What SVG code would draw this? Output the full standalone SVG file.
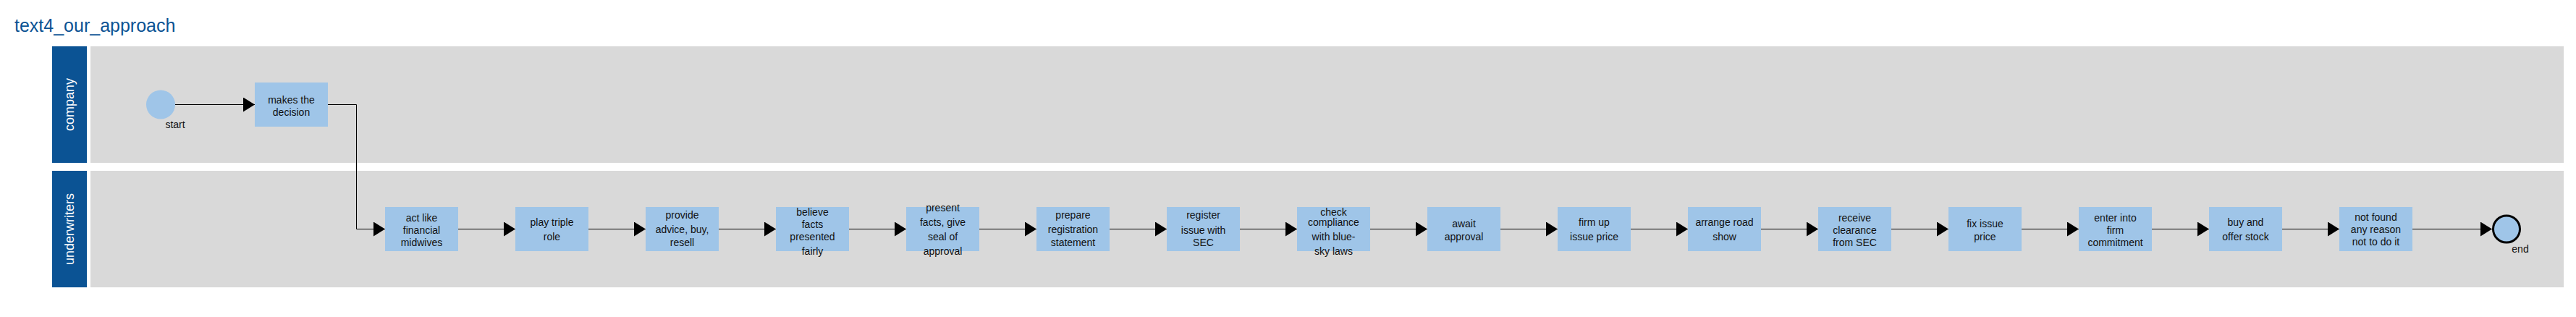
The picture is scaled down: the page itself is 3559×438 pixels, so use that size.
<svg xmlns="http://www.w3.org/2000/svg" width="3559" height="438" viewBox="0 0 3559 438">
<defs>
<style>
.lanehead{fill:#0b5394}
.lanebody{fill:#d9d9d9}
.lanelabel{font-family:"Liberation Sans",Arial,sans-serif;font-size:18px;fill:#ffffff;text-anchor:middle;dominant-baseline:central}
.box{fill:#9fc5e8}
.t{font-family:"Liberation Sans",Arial,sans-serif;font-size:14px;fill:#111111;text-anchor:middle}
.edge{fill:none;stroke:#000000;stroke-width:1;marker-end:url(#arrow)}
.title{font-family:"Liberation Sans",Arial,sans-serif;font-size:25px;fill:#0b5394}
</style>
<marker id="arrow" markerUnits="userSpaceOnUse" markerWidth="16" markerHeight="20" refX="16" refY="10" orient="auto">
<path d="M0,0 L16,10 L0,20 Z" fill="#000000"/>
</marker>
</defs>
<rect width="3559" height="438" fill="#ffffff"/>
<text class="title" x="20" y="44">text4_our_approach</text>
<g id="lane-company">
<rect class="lanehead" x="72" y="64" width="48" height="161"/>
<rect class="lanebody" x="125" y="64" width="3417" height="161"/>
<text class="lanelabel" transform="translate(96,144.5) rotate(-90)">company</text>
</g>
<g id="lane-underwriters">
<rect class="lanehead" x="72" y="236" width="48" height="161"/>
<rect class="lanebody" x="125" y="236" width="3417" height="161"/>
<text class="lanelabel" transform="translate(96,316.5) rotate(-90)">underwriters</text>
</g>
<g id="connectors">
<path class="edge" d="M242,144.5 H352"/>
<path class="edge" d="M453,144.5 H492.5 V316.5 H532"/>
<path class="edge" d="M633,316.5 H712"/>
<path class="edge" d="M813,316.5 H892"/>
<path class="edge" d="M993,316.5 H1072"/>
<path class="edge" d="M1173,316.5 H1252"/>
<path class="edge" d="M1353,316.5 H1432"/>
<path class="edge" d="M1533,316.5 H1612"/>
<path class="edge" d="M1713,316.5 H1792"/>
<path class="edge" d="M1893,316.5 H1972"/>
<path class="edge" d="M2073,316.5 H2152"/>
<path class="edge" d="M2253,316.5 H2332"/>
<path class="edge" d="M2433,316.5 H2512"/>
<path class="edge" d="M2613,316.5 H2692"/>
<path class="edge" d="M2793,316.5 H2872"/>
<path class="edge" d="M2973,316.5 H3052"/>
<path class="edge" d="M3153,316.5 H3232"/>
<path class="edge" d="M3333,316.5 H3443"/>
</g>
<g id="start">
<circle cx="222" cy="144.5" r="20" fill="#9fc5e8"/>
<text class="t" x="242" y="177">start</text>
</g>
<g id="n1">
<rect class="box" x="352" y="114" width="101" height="61"/>
<text class="t"><tspan x="402.5" y="142.7">makes the</tspan><tspan x="402.5" y="160">decision</tspan></text>
</g>
<g id="n2">
<rect class="box" x="532" y="286" width="101" height="61"/>
<text class="t"><tspan x="582.5" y="306">act like</tspan><tspan x="582.5" y="323.3">financial</tspan><tspan x="582.5" y="340">midwives</tspan></text>
</g>
<g id="n3">
<rect class="box" x="712" y="286" width="101" height="61"/>
<text class="t"><tspan x="762.5" y="311.7">play triple</tspan><tspan x="762.5" y="331.7">role</tspan></text>
</g>
<g id="n4">
<rect class="box" x="892" y="286" width="101" height="61"/>
<text class="t"><tspan x="942.5" y="302">provide</tspan><tspan x="942.5" y="322">advice, buy,</tspan><tspan x="942.5" y="340">resell</tspan></text>
</g>
<g id="n5">
<rect class="box" x="1072" y="286" width="101" height="61"/>
<text class="t"><tspan x="1122.5" y="297.7">believe</tspan><tspan x="1122.5" y="315">facts</tspan><tspan x="1122.5" y="332">presented</tspan><tspan x="1122.5" y="351.7">fairly</tspan></text>
</g>
<g id="n6">
<rect class="box" x="1252" y="286" width="101" height="61"/>
<text class="t"><tspan x="1302.5" y="292">present</tspan><tspan x="1302.5" y="312">facts, give</tspan><tspan x="1302.5" y="331.7">seal of</tspan><tspan x="1302.5" y="351.7">approval</tspan></text>
</g>
<g id="n7">
<rect class="box" x="1432" y="286" width="101" height="61"/>
<text class="t"><tspan x="1482.5" y="302">prepare</tspan><tspan x="1482.5" y="322">registration</tspan><tspan x="1482.5" y="340">statement</tspan></text>
</g>
<g id="n8">
<rect class="box" x="1612" y="286" width="101" height="61"/>
<text class="t"><tspan x="1662.5" y="302">register</tspan><tspan x="1662.5" y="322.7">issue with</tspan><tspan x="1662.5" y="340">SEC</tspan></text>
</g>
<g id="n9">
<rect class="box" x="1792" y="286" width="101" height="61"/>
<text class="t"><tspan x="1842.5" y="297.7">check</tspan><tspan x="1842.5" y="311.7">compliance</tspan><tspan x="1842.5" y="331.7">with blue-</tspan><tspan x="1842.5" y="351.7">sky laws</tspan></text>
</g>
<g id="n10">
<rect class="box" x="1972" y="286" width="101" height="61"/>
<text class="t"><tspan x="2022.5" y="314.3">await</tspan><tspan x="2022.5" y="331.7">approval</tspan></text>
</g>
<g id="n11">
<rect class="box" x="2152" y="286" width="101" height="61"/>
<text class="t"><tspan x="2202.5" y="311.7">firm up</tspan><tspan x="2202.5" y="331.7">issue price</tspan></text>
</g>
<g id="n12">
<rect class="box" x="2332" y="286" width="101" height="61"/>
<text class="t"><tspan x="2382.5" y="311.7">arrange road</tspan><tspan x="2382.5" y="331.7">show</tspan></text>
</g>
<g id="n13">
<rect class="box" x="2512" y="286" width="101" height="61"/>
<text class="t"><tspan x="2562.5" y="306">receive</tspan><tspan x="2562.5" y="323.3">clearance</tspan><tspan x="2562.5" y="340">from SEC</tspan></text>
</g>
<g id="n14">
<rect class="box" x="2692" y="286" width="101" height="61"/>
<text class="t"><tspan x="2742.5" y="314.3">fix issue</tspan><tspan x="2742.5" y="331.7">price</tspan></text>
</g>
<g id="n15">
<rect class="box" x="2872" y="286" width="101" height="61"/>
<text class="t"><tspan x="2922.5" y="306">enter into</tspan><tspan x="2922.5" y="323.3">firm</tspan><tspan x="2922.5" y="340">commitment</tspan></text>
</g>
<g id="n16">
<rect class="box" x="3052" y="286" width="101" height="61"/>
<text class="t"><tspan x="3102.5" y="311.7">buy and</tspan><tspan x="3102.5" y="331.7">offer stock</tspan></text>
</g>
<g id="n17">
<rect class="box" x="3232" y="286" width="101" height="61"/>
<text class="t"><tspan x="3282.5" y="305.3">not found</tspan><tspan x="3282.5" y="322">any reason</tspan><tspan x="3282.5" y="339.3">not to do it</tspan></text>
</g>
<g id="end">
<circle cx="3463" cy="316.5" r="18.5" fill="#9fc5e8" stroke="#000000" stroke-width="3"/>
<text class="t" x="3482" y="349">end</text>
</g>
</svg>
